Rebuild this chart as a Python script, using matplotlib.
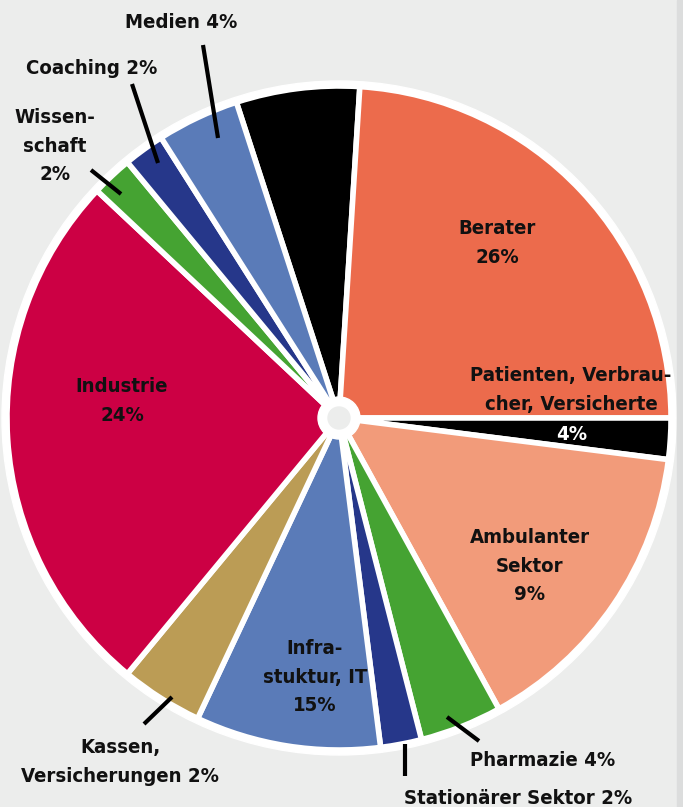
import matplotlib
matplotlib.use("Agg")
import matplotlib.pyplot as plt
from matplotlib.patches import Circle, Rectangle

# ---- data (clockwise from top) ----
segments = ["Sonstige", "Berater", "Patienten, Verbraucher, Versicherte",
            "Ambulanter Sektor", "Pharmazie", "Stationärer Sektor",
            "Infrastuktur, IT", "Kassen, Versicherungen", "Industrie",
            "Wissenschaft", "Coaching", "Medien"]
shares = [6, 24, 2, 15, 4, 2, 9, 4, 26, 2, 2, 4]
colors = ["#000000", "#ec6b4c", "#000000", "#f29b7a", "#45a332", "#26378a",
          "#5a7bb8", "#bb9c55", "#cc0044", "#45a332", "#26378a", "#5a7bb8"]
label_texts = ["", "Berater\n26%", "Patienten, Verbrau-\ncher, Versicherte",
               "Ambulanter\nSektor\n9%", "Pharmazie 4%", "Stationärer Sektor 2%",
               "Infra-\nstuktur, IT\n15%", "Kassen,\nVersicherungen 2%",
               "Industrie\n24%", "Wissen-\nschaft\n2%", "Coaching 2%", "Medien 4%"]

BG = "#ecedec"
W, H = 683, 807
fig = plt.figure(figsize=(W / 100, H / 100), dpi=100, facecolor=BG)
ax = fig.add_axes([0, 0, 1, 1])
ax.set_facecolor(BG)

cx, cy, R = 339, 418, 332
ax.add_patch(Circle((cx, cy), R + 5, color="white", zorder=0))
ax.pie(shares, colors=colors, startangle=-108, counterclock=True,
       center=(cx, cy), radius=R,
       wedgeprops=dict(edgecolor="white", linewidth=4, zorder=1))
ax.add_patch(Circle((cx, cy), 21, color="white", zorder=3))
ax.add_patch(Circle((cx, cy), 11, color=BG, zorder=4))

ax.set_xlim(0, W)
ax.set_ylim(H, 0)
ax.set_aspect("equal")
ax.axis("off")
ax.add_patch(Rectangle((677, 0), 6, H, color="#dcdddd", zorder=0))

font = dict(family="DejaVu Sans", fontstretch="condensed", fontweight="bold",
            fontsize=14.6, ha="center", va="center", linespacing=1.62, zorder=6)

# label positions (pixel coords)
pos = {
    1: (497, 243), 2: (571, 390), 3: (530, 566), 4: (543, 760), 5: (518, 798),
    6: (315, 677), 7: (120, 762), 8: (122, 401), 9: (55, 146), 10: (92, 68),
    11: (181, 22),
}
for i, (x, y) in pos.items():
    ax.text(x, y, label_texts[i], color="#111111", **font)
ax.text(572, 435, "4%", color="white", **font)

leaders = [((203, 45), (218, 138)), ((132, 84), (158, 163)),
           ((91, 170), (121, 194)), ((144, 724), (172, 697)),
           ((405, 744), (405, 776)), ((447, 717), (479, 741))]
for (x0, y0), (x1, y1) in leaders:
    ax.plot([x0, x1], [y0, y1], color="black", lw=3, solid_capstyle="butt", zorder=5)

fig.savefig("out.png", dpi=100, facecolor=BG)
